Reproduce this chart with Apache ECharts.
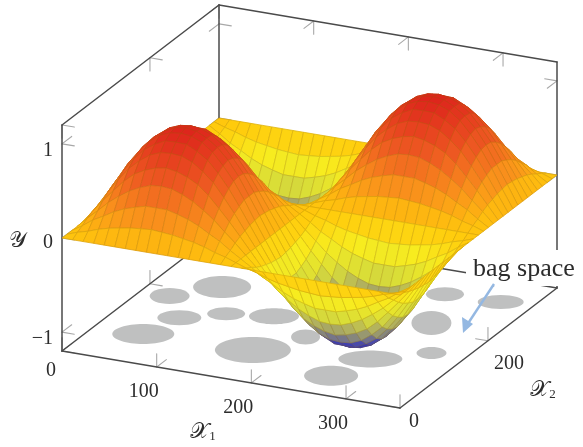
<!DOCTYPE html>
<html><head><meta charset="utf-8">
<style>html,body{margin:0;padding:0;background:#fff}#c{width:583px;height:447px;filter:blur(.6px)}</style>
<script src="https://cdn.jsdelivr.net/npm/echarts@6/dist/echarts.min.js"></script>
</head><body><div id="c"></div>
<script>
// ---- data ----
var x1Max = 357, x2Max = 357, yMin = -1.2, yMax = 1.2;
var x1Ticks = [0, 100, 200, 300];
var x2Ticks = [0, 200];
var yTicks = [-1, 0, 1];
var gridStep = 357 / 32;
// surface heights: rows run along x2, columns along x1
var surfaceY = [
[0,0,0,0,0,0,0,0,0,0,0,0,0,0,0,0,0,0,0,0,0,0,0,0,0,0,0,0,0,0,0,0,0],
[0,.04,.07,.11,.14,.16,.18,.19,.20,.19,.18,.16,.14,.11,.07,.04,0,-.04,-.07,-.11,-.14,-.16,-.18,-.19,-.20,-.19,-.18,-.16,-.14,-.11,-.07,-.04,0],
[0,.07,.15,.21,.275,.325,.36,.39,.39,.39,.36,.325,.275,.21,.15,.07,0,-.07,-.15,-.21,-.275,-.325,-.36,-.39,-.39,-.39,-.36,-.325,-.275,-.21,-.15,-.07,0],
[0,.11,.21,.315,.40,.475,.53,.57,.58,.57,.53,.475,.40,.315,.21,.11,0,-.11,-.21,-.315,-.40,-.475,-.53,-.57,-.58,-.57,-.53,-.475,-.40,-.315,-.21,-.11,0],
[0,.14,.275,.40,.52,.615,.675,.715,.735,.715,.675,.615,.52,.40,.275,.14,0,-.14,-.275,-.40,-.52,-.615,-.675,-.715,-.735,-.715,-.675,-.615,-.52,-.40,-.275,-.14,0],
[0,.16,.325,.475,.615,.715,.795,.84,.85,.84,.795,.715,.615,.475,.325,.16,0,-.16,-.325,-.475,-.615,-.715,-.795,-.84,-.85,-.84,-.795,-.715,-.615,-.475,-.325,-.16,0],
[0,.18,.36,.53,.675,.795,.87,.925,.93,.925,.87,.795,.675,.53,.36,.18,0,-.18,-.36,-.53,-.675,-.795,-.87,-.925,-.93,-.925,-.87,-.795,-.675,-.53,-.36,-.18,0],
[0,.19,.39,.57,.715,.84,.925,.97,.985,.97,.925,.84,.715,.57,.39,.19,0,-.19,-.39,-.57,-.715,-.84,-.925,-.97,-.985,-.97,-.925,-.84,-.715,-.57,-.39,-.19,0],
[0,.20,.39,.58,.735,.85,.93,.985,1,.985,.93,.85,.735,.58,.39,.20,0,-.20,-.39,-.58,-.735,-.85,-.93,-.985,-1,-.985,-.93,-.85,-.735,-.58,-.39,-.20,0],
[0,.19,.39,.57,.715,.84,.925,.97,.985,.97,.925,.84,.715,.57,.39,.19,0,-.19,-.39,-.57,-.715,-.84,-.925,-.97,-.985,-.97,-.925,-.84,-.715,-.57,-.39,-.19,0],
[0,.18,.36,.53,.675,.795,.87,.925,.93,.925,.87,.795,.675,.53,.36,.18,0,-.18,-.36,-.53,-.675,-.795,-.87,-.925,-.93,-.925,-.87,-.795,-.675,-.53,-.36,-.18,0],
[0,.16,.325,.475,.615,.715,.795,.84,.85,.84,.795,.715,.615,.475,.325,.16,0,-.16,-.325,-.475,-.615,-.715,-.795,-.84,-.85,-.84,-.795,-.715,-.615,-.475,-.325,-.16,0],
[0,.14,.275,.40,.52,.615,.675,.715,.735,.715,.675,.615,.52,.40,.275,.14,0,-.14,-.275,-.40,-.52,-.615,-.675,-.715,-.735,-.715,-.675,-.615,-.52,-.40,-.275,-.14,0],
[0,.11,.21,.315,.40,.475,.53,.57,.58,.57,.53,.475,.40,.315,.21,.11,0,-.11,-.21,-.315,-.40,-.475,-.53,-.57,-.58,-.57,-.53,-.475,-.40,-.315,-.21,-.11,0],
[0,.07,.15,.21,.275,.325,.36,.39,.39,.39,.36,.325,.275,.21,.15,.07,0,-.07,-.15,-.21,-.275,-.325,-.36,-.39,-.39,-.39,-.36,-.325,-.275,-.21,-.15,-.07,0],
[0,.04,.07,.11,.14,.16,.18,.19,.20,.19,.18,.16,.14,.11,.07,.04,0,-.04,-.07,-.11,-.14,-.16,-.18,-.19,-.20,-.19,-.18,-.16,-.14,-.11,-.07,-.04,0],
[0,0,0,0,0,0,0,0,0,0,0,0,0,0,0,0,0,0,0,0,0,0,0,0,0,0,0,0,0,0,0,0,0],
[0,-.04,-.07,-.11,-.14,-.16,-.18,-.19,-.20,-.19,-.18,-.16,-.14,-.11,-.07,-.04,0,.04,.07,.11,.14,.16,.18,.19,.20,.19,.18,.16,.14,.11,.07,.04,0],
[0,-.07,-.15,-.21,-.275,-.325,-.36,-.39,-.39,-.39,-.36,-.325,-.275,-.21,-.15,-.07,0,.07,.15,.21,.275,.325,.36,.39,.39,.39,.36,.325,.275,.21,.15,.07,0],
[0,-.11,-.21,-.315,-.40,-.475,-.53,-.57,-.58,-.57,-.53,-.475,-.40,-.315,-.21,-.11,0,.11,.21,.315,.40,.475,.53,.57,.58,.57,.53,.475,.40,.315,.21,.11,0],
[0,-.14,-.275,-.40,-.52,-.615,-.675,-.715,-.735,-.715,-.675,-.615,-.52,-.40,-.275,-.14,0,.14,.275,.40,.52,.615,.675,.715,.735,.715,.675,.615,.52,.40,.275,.14,0],
[0,-.16,-.325,-.475,-.615,-.715,-.795,-.84,-.85,-.84,-.795,-.715,-.615,-.475,-.325,-.16,0,.16,.325,.475,.615,.715,.795,.84,.85,.84,.795,.715,.615,.475,.325,.16,0],
[0,-.18,-.36,-.53,-.675,-.795,-.87,-.925,-.93,-.925,-.87,-.795,-.675,-.53,-.36,-.18,0,.18,.36,.53,.675,.795,.87,.925,.93,.925,.87,.795,.675,.53,.36,.18,0],
[0,-.19,-.39,-.57,-.715,-.84,-.925,-.97,-.985,-.97,-.925,-.84,-.715,-.57,-.39,-.19,0,.19,.39,.57,.715,.84,.925,.97,.985,.97,.925,.84,.715,.57,.39,.19,0],
[0,-.20,-.39,-.58,-.735,-.85,-.93,-.985,-1,-.985,-.93,-.85,-.735,-.58,-.39,-.20,0,.20,.39,.58,.735,.85,.93,.985,1,.985,.93,.85,.735,.58,.39,.20,0],
[0,-.19,-.39,-.57,-.715,-.84,-.925,-.97,-.985,-.97,-.925,-.84,-.715,-.57,-.39,-.19,0,.19,.39,.57,.715,.84,.925,.97,.985,.97,.925,.84,.715,.57,.39,.19,0],
[0,-.18,-.36,-.53,-.675,-.795,-.87,-.925,-.93,-.925,-.87,-.795,-.675,-.53,-.36,-.18,0,.18,.36,.53,.675,.795,.87,.925,.93,.925,.87,.795,.675,.53,.36,.18,0],
[0,-.16,-.325,-.475,-.615,-.715,-.795,-.84,-.85,-.84,-.795,-.715,-.615,-.475,-.325,-.16,0,.16,.325,.475,.615,.715,.795,.84,.85,.84,.795,.715,.615,.475,.325,.16,0],
[0,-.14,-.275,-.40,-.52,-.615,-.675,-.715,-.735,-.715,-.675,-.615,-.52,-.40,-.275,-.14,0,.14,.275,.40,.52,.615,.675,.715,.735,.715,.675,.615,.52,.40,.275,.14,0],
[0,-.11,-.21,-.315,-.40,-.475,-.53,-.57,-.58,-.57,-.53,-.475,-.40,-.315,-.21,-.11,0,.11,.21,.315,.40,.475,.53,.57,.58,.57,.53,.475,.40,.315,.21,.11,0],
[0,-.07,-.15,-.21,-.275,-.325,-.36,-.39,-.39,-.39,-.36,-.325,-.275,-.21,-.15,-.07,0,.07,.15,.21,.275,.325,.36,.39,.39,.39,.36,.325,.275,.21,.15,.07,0],
[0,-.04,-.07,-.11,-.14,-.16,-.18,-.19,-.20,-.19,-.18,-.16,-.14,-.11,-.07,-.04,0,.04,.07,.11,.14,.16,.18,.19,.20,.19,.18,.16,.14,.11,.07,.04,0],
[0,0,0,0,0,0,0,0,0,0,0,0,0,0,0,0,0,0,0,0,0,0,0,0,0,0,0,0,0,0,0,0,0]
];
// grey bags on the floor: centre in (x1, x2)
var bagX1 = [66, 31, 64, 100, 144, 51, 164, 195, 276, 261, 267, 324, 288, 322];
var bagX2 = [222, 178, 129, 158, 172, 75, 81, 134, 107, 50, 296, 300, 220, 147];
var bagW  = [58, 40, 44, 38, 50, 62, 76, 29, 64, 54, 38, 46, 40, 30];
var bagH  = [22, 16, 15, 13, 16, 20, 26, 15, 17, 20, 14, 14, 24, 12];
var annotationText = 'bag space';
var xAxisTitles = ['𝒳', '𝒳'];
var yAxisTitle = '𝒴';

// ---- view ----
var origin = [62, 351], ex1 = [338, 57], ex2 = [157, -120], ey = [0, -226];
function project(x1, x2, y) {
  var u = x1 / x1Max, v = x2 / x2Max, w = (y - yMin) / (yMax - yMin);
  return [origin[0] + u * ex1[0] + v * ex2[0] + w * ey[0],
          origin[1] + u * ex1[1] + v * ex2[1] + w * ey[1]];
}
var stops = [[-1, '#2c2cb4'], [-.87, '#4242ae'], [-.76, '#85857e'], [-.62, '#b2b25e'], [-.47, '#d9dd38'], [-.25, '#f8ec1e'],
             [-.03, '#ffcb0c'], [.12, '#fdb012'], [.3, '#f98e1c'], [.6, '#ee5a22'], [.85, '#e43a1e'], [1, '#dc241c']];
function colorOf(y) {
  for (var k = 1; k < stops.length; k++) {
    if (y <= stops[k][0]) {
      var t = Math.max(0, (y - stops[k - 1][0]) / (stops[k][0] - stops[k - 1][0]));
      return echarts.color.lerp(t, [stops[k - 1][1], stops[k][1]]);
    }
  }
  return stops[stops.length - 1][1];
}

// tables for the series
var cells = [];
for (var j = surfaceY.length - 2; j >= 0; j--) {
  for (var i = 0; i < surfaceY[j].length - 1; i++) {
    cells.push([i * gridStep, (i + 1) * gridStep, j * gridStep, (j + 1) * gridStep,
      surfaceY[j][i], surfaceY[j][i + 1], surfaceY[j + 1][i + 1], surfaceY[j + 1][i]]);
  }
}
var bags = bagX1.map(function (v, k) { return [v, bagX2[k], bagW[k], bagH[k]]; });
var boxEdges = [
  [0, 0, yMin, x1Max, 0, yMin], [x1Max, 0, yMin, x1Max, x2Max, yMin], [0, 0, yMin, 0, x2Max, yMin],
  [0, x2Max, yMin, x1Max, x2Max, yMin], [0, 0, yMin, 0, 0, yMax], [0, x2Max, yMin, 0, x2Max, yMax],
  [x1Max, x2Max, yMin, x1Max, x2Max, yMax], [0, 0, yMax, 0, x2Max, yMax], [0, x2Max, yMax, x1Max, x2Max, yMax]
];
var LX1 = 13, LX2 = 22, LY = .14;
var tickSegs = [];
function addTick(a, b, c, d1, d2) {
  tickSegs.push([a, b, c, a + d1[0], b + d1[1], c + d1[2]]);
  tickSegs.push([a, b, c, a + d2[0], b + d2[1], c + d2[2]]);
}
x1Ticks.forEach(function (t) {
  addTick(t, 0, yMin, [0, LX2, 0], [0, 0, LY]);
  addTick(t, x2Max, yMax, [0, -LX2, 0], [0, 0, -LY]);
  addTick(t, x2Max, yMin, [0, -LX2, 0], [0, 0, LY]);
});
x2Ticks.forEach(function (t) {
  addTick(x1Max, t, yMin, [-LX1, 0, 0], [0, 0, LY]);
  addTick(0, t, yMax, [LX1, 0, 0], [0, 0, -LY]);
  addTick(0, t, yMin, [LX1, 0, 0], [0, 0, LY]);
});
yTicks.forEach(function (t) {
  addTick(0, 0, t, [LX1, 0, 0], [0, LX2, 0]);
  addTick(0, x2Max, t, [LX1, 0, 0], [0, -LX2, 0]);
  addTick(x1Max, x2Max, t, [-LX1, 0, 0], [0, -LX2, 0]);
});
var tickLabels = [];
x1Ticks.forEach(function (t) {
  tickLabels.push(t === 0 ? [t, 0, yMin, String(t), -11, 20, 'center'] : [t, 0, yMin, String(t), -13, 25, 'center']);
});
x2Ticks.forEach(function (t) {
  tickLabels.push(t === 0 ? [x1Max, t, yMin, String(t), 14, 14, 'center'] : [x1Max, t, yMin, String(t), 21, 23, 'center']);
});
yTicks.forEach(function (t) {
  tickLabels.push([0, 0, t, String(t).replace('-', '\u2212'), -9, t === 0 ? 5 : 7, 'right']);
});

function segRender(color, width) {
  return function (params, api) {
    var a = project(api.value(0), api.value(1), api.value(2));
    var b = project(api.value(3), api.value(4), api.value(5));
    var p = api.coord(a), q = api.coord(b);
    return { type: 'line', shape: { x1: p[0], y1: p[1], x2: q[0], y2: q[1] },
      style: { stroke: color, lineWidth: width, lineCap: 'round' }, silent: true };
  };
}
var SERIF = '"Liberation Serif","DejaVu Serif",serif';
var option = {
  animation: false,
  backgroundColor: '#fff',
  grid: { left: 0, right: 0, top: 0, bottom: 0 },
  xAxis: { type: 'value', min: 0, max: 583, show: false },
  yAxis: { type: 'value', min: 0, max: 447, inverse: true, show: false },
  series: [
    { type: 'custom', coordinateSystem: 'cartesian2d', data: bags, clip: false, silent: true, z: 1,
      encode: { x: 0, y: 1 },
      renderItem: function (params, api) {
        var c = api.coord(project(api.value(0), api.value(1), yMin));
        return { type: 'ellipse', shape: { cx: c[0], cy: c[1], rx: api.value(2) / 2, ry: api.value(3) / 2 },
          style: { fill: '#bfc0c0' } };
      } },
    { type: 'custom', data: tickSegs, clip: false, silent: true, z: 2, encode: { x: 0, y: 1 }, renderItem: segRender('#a8a8a8', 1.1) },
    { type: 'custom', data: boxEdges, clip: false, silent: true, z: 3, encode: { x: 0, y: 1 }, renderItem: segRender('#4a4a4a', 1.5) },
    { type: 'custom', data: cells, clip: false, silent: true, z: 4, encode: { x: 0, y: 2 },
      renderItem: function (params, api) {
        var xa = api.value(0), xb = api.value(1), za = api.value(2), zb = api.value(3);
        var y0 = api.value(4), y1 = api.value(5), y2 = api.value(6), y3 = api.value(7);
        var pts = [project(xa, za, y0), project(xb, za, y1), project(xb, zb, y2), project(xa, zb, y3)].map(function (p) { return api.coord(p); });
        var col = colorOf((y0 + y1 + y2 + y3) / 4);
        return { type: 'polygon', shape: { points: pts },
          style: { fill: col, stroke: echarts.color.lerp(0.28, [col, '#8a6000']), lineWidth: 0.8, lineJoin: 'round' } };
      } },
    { type: 'custom', data: tickLabels, clip: false, silent: true, z: 5, encode: { x: 0, y: 1 },
      renderItem: function (params, api) {
        var c = api.coord(project(api.value(0), api.value(1), api.value(2)));
        return { type: 'text', x: c[0] + api.value(4), y: c[1] + api.value(5),
          style: { text: api.value(3), font: '20px ' + SERIF, fill: '#2c2c2c', textAlign: api.value(6), textVerticalAlign: 'middle' } };
      },
      dimensions: [{ name: 'a', type: 'number' }, { name: 'b', type: 'number' }, { name: 'c', type: 'number' }, { name: 'label', type: 'ordinal' }, { name: 'dx', type: 'number' }, { name: 'dy', type: 'number' }, { name: 'align', type: 'ordinal' }] }
  ],
  graphic: { elements: [
    { type: 'rect', z: 10, silent: true, shape: { x: 466, y: 250, width: 116, height: 36 }, style: { fill: '#fff' } },
    { type: 'text', z: 11, silent: true, x: 473, y: 269, style: { text: annotationText, font: '26px ' + SERIF, fill: '#2c2c2c', textVerticalAlign: 'middle' } },
    { type: 'line', z: 11, silent: true, shape: { x1: 494, y1: 284, x2: 467, y2: 325 }, style: { stroke: '#94b8e2', lineWidth: 2.4 } },
    { type: 'polygon', z: 11, silent: true, shape: { points: [[463, 333], [462, 317], [473, 324]] }, style: { fill: '#94b8e2' } },
    { type: 'text', z: 11, silent: true, x: 17, y: 241, style: { text: yAxisTitle, font: '22px ' + SERIF, fill: '#2c2c2c', textAlign: 'center', textVerticalAlign: 'middle' } },
    { type: 'text', z: 11, silent: true, x: 203, y: 432, style: { text: '{a|' + xAxisTitles[0] + '}{b|1}', textAlign: 'center', textVerticalAlign: 'middle', fill: '#2c2c2c',
        rich: { a: { font: '22px ' + SERIF, fill: '#2c2c2c' }, b: { font: '13px ' + SERIF, fill: '#2c2c2c', padding: [10, 0, 0, 0] } } } },
    { type: 'text', z: 11, silent: true, x: 543, y: 390, style: { text: '{a|' + xAxisTitles[1] + '}{b|2}', textAlign: 'center', textVerticalAlign: 'middle', fill: '#2c2c2c',
        rich: { a: { font: '22px ' + SERIF, fill: '#2c2c2c' }, b: { font: '13px ' + SERIF, fill: '#2c2c2c', padding: [10, 0, 0, 0] } } } }
  ] }
};
var chart = echarts.init(document.getElementById('c'), null, { renderer: 'canvas', width: 583, height: 447 });
chart.setOption(option);
</script></body></html>
